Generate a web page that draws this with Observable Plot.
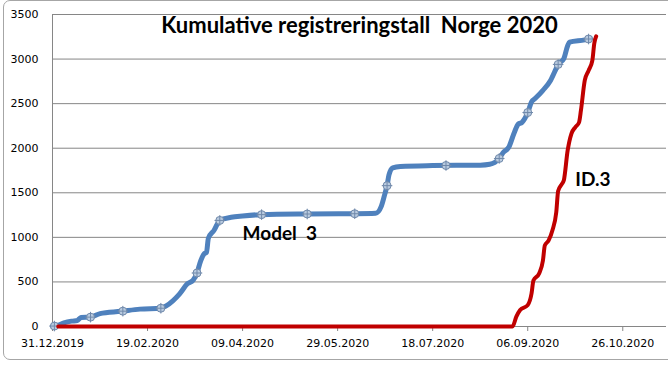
<!DOCTYPE html>
<html><head><meta charset="utf-8">
<script src="https://cdn.jsdelivr.net/npm/d3@7"></script>
<script src="https://cdn.jsdelivr.net/npm/@observablehq/plot@0.6"></script>
<style>
body{margin:0;background:#fff;overflow:hidden;}
#frame{position:absolute;left:3px;top:0px;width:720px;height:360px;border:1px solid #a6a6a6;border-radius:7px;box-sizing:border-box;}
#chart{position:absolute;left:0;top:0;}
svg text{white-space:pre;}
</style></head><body>
<div id="frame"></div><div id="chart"></div>
<script>
// Model 3 cumulative registrations
const model3Dates = ["2019-12-31","2020-01-03","2020-01-06","2020-01-10","2020-01-13","2020-01-15","2020-01-20","2020-01-25","2020-02-05","2020-02-15","2020-02-26","2020-02-29","2020-03-07","2020-03-11","2020-03-14","2020-03-16","2020-03-18","2020-03-20","2020-03-21","2020-03-22","2020-03-25","2020-03-28","2020-04-03","2020-04-09","2020-04-19","2020-05-13","2020-06-07","2020-06-18","2020-06-21","2020-06-23","2020-06-24","2020-06-25","2020-06-27","2020-07-01","2020-07-18","2020-08-12","2020-08-17","2020-08-22","2020-08-24","2020-08-27","2020-08-30","2020-09-01","2020-09-03","2020-09-06","2020-09-08","2020-09-10","2020-09-14","2020-09-18","2020-09-21","2020-09-22","2020-09-25","2020-09-27","2020-09-28","2020-10-06","2020-10-08","2020-10-09"];
const model3Values = [0,15,40,60,67,100,105,145,170,195,205,235,370,480,520,600,740,820,830,990,1080,1190,1225,1240,1255,1262,1265,1270,1350,1500,1580,1700,1780,1795,1805,1810,1820,1885,1950,2010,2180,2270,2290,2400,2520,2560,2650,2760,2895,2940,3005,3150,3190,3215,3225,3230];
// Marker points on Model 3
const markerDates = ["2020-01-01","2020-01-20","2020-02-06","2020-02-26","2020-03-16","2020-03-28","2020-04-19","2020-05-13","2020-06-07","2020-06-24","2020-07-25","2020-08-22","2020-09-06","2020-09-22","2020-10-08"];
const markerValues = [5,105,172,205,600,1190,1255,1262,1265,1580,1806,1885,2400,2940,3225];
// ID.3 cumulative registrations
const id3Dates = ["2020-01-03","2020-08-29","2020-08-31","2020-09-02","2020-09-06","2020-09-08","2020-09-09","2020-09-12","2020-09-14","2020-09-15","2020-09-17","2020-09-19","2020-09-21","2020-09-22","2020-09-24","2020-09-25","2020-09-27","2020-09-29","2020-10-01","2020-10-03","2020-10-04","2020-10-06","2020-10-08","2020-10-10","2020-10-11","2020-10-12"];
const id3Values = [0,0,110,185,240,370,515,595,740,910,965,1080,1280,1520,1600,1640,1975,2165,2235,2290,2425,2760,2870,2985,3175,3255];
// Axis ticks
const xTickLabels = ["31.12.2019","19.02.2020","09.04.2020","29.05.2020","18.07.2020","06.09.2020","26.10.2020"];
const yTicks = [0,500,1000,1500,2000,2500,3000,3500];
// Text labels
const titleText = "Kumulative registreringstall  Norge 2020";
const labelTexts = ["Model  3","ID.3"];
const labelDates = ["2020-04-09","2020-10-01"];
const labelValues = [1040,1650];

const parse = d3.utcParse("%Y-%m-%d");
const parseTick = d3.utcParse("%d.%m.%Y");
const model3 = model3Dates.map((d,i)=>({date:parse(d), value:model3Values[i]}));
const markers = markerDates.map((d,i)=>({date:parse(d), value:markerValues[i]}));
const id3 = id3Dates.map((d,i)=>({date:parse(d), value:id3Values[i]}));
const labels = labelTexts.map((t,i)=>({text:t, date:parse(labelDates[i]), value:labelValues[i]}));
const xTicks = xTickLabels.map(parseTick);
const xDomain = [parse("2019-12-31"), parse("2020-11-18")];

const plot = Plot.plot({
  width: 668, height: 360,
  marginLeft: 52, marginRight: 2, marginTop: 14, marginBottom: 34,
  style: {fontFamily: "DejaVu Sans", fontSize: "11px", color: "#000", background: "transparent", overflow: "visible"},
  x: {type: "utc", domain: xDomain},
  y: {domain: [0, 3500], axis: null},
  marks: [
    Plot.ruleY(yTicks, {stroke: "#868686", strokeWidth: 1}),
    Plot.ruleX([xDomain[0]], {stroke: "#868686", strokeWidth: 1}),
    Plot.axisX({ticks: xTicks, tickFormat: d => d3.utcFormat("%d.%m.%Y")(d), tickSize: 5, tickPadding: 8, stroke: "#868686", fill: "#000", label: null}),
    Plot.text(yTicks, {x: () => xDomain[0], y: d => d, text: d => String(d), textAnchor: "end", dx: -14, fill: "#000"}),
    Plot.line(model3, {x: "date", y: "value", stroke: "#4f81bd", strokeWidth: 5, curve: "monotone-x"}),
    Plot.dot(markers, {x: "date", y: "value", r: 4, fill: "#b9cbe0", stroke: "#7089aa", strokeWidth: 1}),
    Plot.dot(markers, {x: "date", y: "value", r: 3.5, symbol: "plus", stroke: "#7089aa", strokeWidth: 1}),
    Plot.line(id3, {x: "date", y: "value", stroke: "#c00000", strokeWidth: 4, curve: "monotone-x"}),
    Plot.text(labels, {x: "date", y: "value", text: "text", textAnchor: "start", fontSize: 19, fontWeight: "bold", fontFamily: "Lato", fill: "#000"}),
    Plot.text([titleText], {frameAnchor: "top", lineAnchor: "middle", dx: 0, dy: 11, fontSize: 22, fontWeight: "bold", fontFamily: "Lato", fill: "#000"})
  ]
});
document.getElementById("chart").appendChild(plot);
</script>
</body></html>
